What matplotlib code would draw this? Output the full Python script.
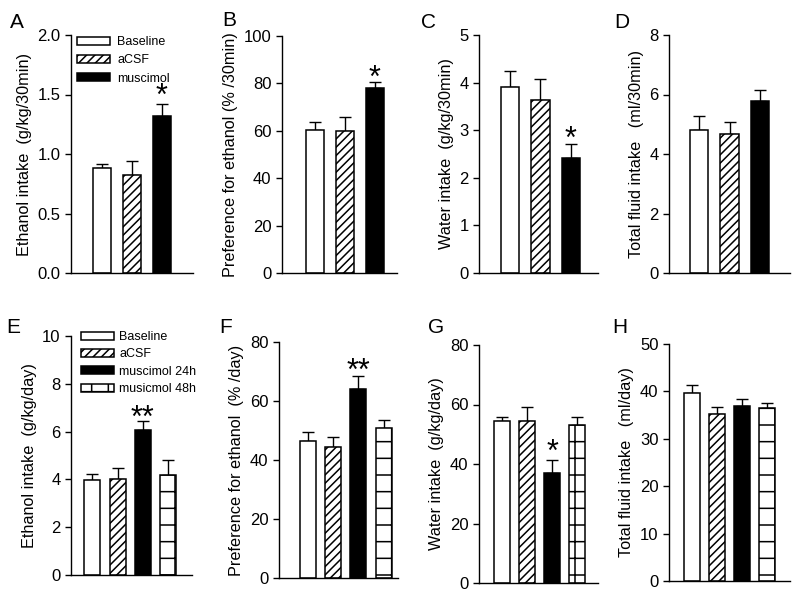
import matplotlib
matplotlib.use("Agg")
import matplotlib.pyplot as plt
import numpy as np

plt.rcParams['font.family'] = ['Liberation Sans', 'DejaVu Sans']
plt.rcParams['hatch.linewidth'] = 1.1

# ---------------- data ----------------
groups_top = ["Baseline", "aCSF", "muscimol"]
groups_bottom = ["Baseline", "aCSF", "muscimol 24h", "musicmol 48h"]

A_mean = [0.88, 0.82, 1.32]
A_err = [0.04, 0.12, 0.10]
B_mean = [60.5, 60.0, 78.2]
B_err = [3.1, 6.0, 2.3]
C_mean = [3.91, 3.64, 2.41]
C_err = [0.33, 0.44, 0.31]
D_mean = [4.80, 4.67, 5.78]
D_err = [0.48, 0.40, 0.37]

E_mean = [3.96, 4.00, 6.07, 4.18]
E_err = [0.27, 0.47, 0.38, 0.62]
F_mean = [46.4, 44.5, 64.2, 51.0]
F_err = [3.2, 3.2, 4.4, 2.6]
G_mean = [54.3, 54.4, 36.9, 53.1]
G_err = [1.5, 4.9, 4.5, 2.7]
H_mean = [39.7, 35.3, 37.0, 36.5]
H_err = [1.7, 1.5, 1.4, 1.1]

panels = [
    # letter, means, errs, ylabel, ylim, yticks, ticklabels, stars, star y, axes px box, xlim
    ("A", A_mean, A_err, "Ethanol intake  (g/kg/30min)", 2.0, [0, 0.5, 1.0, 1.5, 2.0],
     ["0.0", "0.5", "1.0", "1.5", "2.0"], {2: "*"}, 1.48, (71, 193, 35, 273), (-1.02, 3.03)),
    ("B", B_mean, B_err, "Preference for ethanol (% /30min)", 100, [0, 20, 40, 60, 80, 100],
     None, {2: "*"}, 82.0, (282, 397, 36, 273), (-1.09, 2.74)),
    ("C", C_mean, C_err, "Water intake  (g/kg/30min)", 5, [0, 1, 2, 3, 4, 5],
     None, {2: "*"}, 2.80, (479, 598, 35, 273), (-1.03, 2.90)),
    ("D", D_mean, D_err, "Total fluid intake   (ml/30min)", 8, [0, 2, 4, 6, 8],
     None, {}, 0, (669, 790, 35, 273), (-1.0, 3.0)),
    ("E", E_mean, E_err, "Ethanol intake  (g/kg/day)", 10, [0, 2, 4, 6, 8, 10],
     None, {2: "**"}, 6.55, (71, 192, 336, 575), (-0.85, 3.95)),
    ("F", F_mean, F_err, "Preference for ethanol  (% /day)", 80, [0, 20, 40, 60, 80],
     None, {2: "**"}, 69.8, (279, 398, 342, 578), (-1.14, 3.57)),
    ("G", G_mean, G_err, "Water intake  (g/kg/day)", 80, [0, 20, 40, 60, 80],
     None, {2: "*"}, 43.8, (479, 598, 345, 583), (-0.93, 3.83)),
    ("H", H_mean, H_err, "Total fluid intake   (ml/day)", 50, [0, 10, 20, 30, 40, 50],
     None, {}, 0, (669, 790, 344, 581), (-0.93, 3.92)),
]

letter_pos = {"A": (10, 28), "B": (222, 26), "C": (421, 28), "D": (614, 28),
              "E": (6, 333), "F": (219, 333), "G": (428, 333), "H": (612, 333)}

W, H = 800, 599
fig = plt.figure(figsize=(8.0, 5.99), dpi=100)

face = ["white", "white", "black", "white"]
hatches = [None, "////", None, "+"]

for (letter, means, errs, ylabel, ytop, yticks, yticklabels, stars, stary,
     box, xlim) in panels:
    l, r, t, b = box
    ax = fig.add_axes([l / W, 1 - b / H, (r - l) / W, (b - t) / H])
    n = len(means)
    x = np.arange(n)
    width = 0.6 if n == 3 else 0.64
    labels = groups_top if n == 3 else groups_bottom
    bars = []
    for i in range(n):
        bb = ax.bar(x[i], means[i], width=width, color=face[i], edgecolor="black",
                    linewidth=1.1, hatch=hatches[i], label=labels[i], zorder=2)
        bars.append(bb)
    ax.errorbar(x, means, yerr=[np.zeros(n), errs], fmt="none", ecolor="black",
                elinewidth=1.0, capsize=4.3, capthick=1.0, zorder=1)
    for i, s in stars.items():
        ax.text(x[i], stary, s, ha="center", va="center", fontsize=22)
    ax.set_xlim(*xlim)
    ax.set_ylim(0, ytop)
    ax.set_yticks(yticks)
    if yticklabels is not None:
        ax.set_yticklabels(yticklabels)
    ax.set_xticks([])
    ax.spines["top"].set_visible(False)
    ax.spines["right"].set_visible(False)
    for sp in ("left", "bottom"):
        ax.spines[sp].set_linewidth(1.0)
    ax.spines["left"].set_bounds(0, ytop)
    ax.tick_params(axis="y", direction="out", length=4.5, width=1.0, labelsize=12, pad=3)
    ax.set_ylabel(ylabel, fontsize=11.7, labelpad=4)
    ax.patch.set_alpha(0)
    lx, ly = letter_pos[letter]
    fig.text(lx / W, 1 - ly / H, letter, fontsize=15, ha="left", va="baseline")

    if letter == "A":
        ax.legend(handles=bars, loc="upper left", bbox_to_anchor=(0.05, 0.995),
                  frameon=False, fontsize=9, handlelength=2.6, handleheight=0.6,
                  labelspacing=0.5, handletextpad=0.6, borderaxespad=0, borderpad=0)
    if letter == "E":
        leg = ax.legend(handles=bars, loc="upper left", bbox_to_anchor=(0.085, 1.02),
                        frameon=False, fontsize=9, handlelength=2.6, handleheight=0.6,
                        labelspacing=0.42, handletextpad=0.45, borderaxespad=0, borderpad=0)
        leg.set_clip_on(False)

fig.savefig("out.png", dpi=100)
